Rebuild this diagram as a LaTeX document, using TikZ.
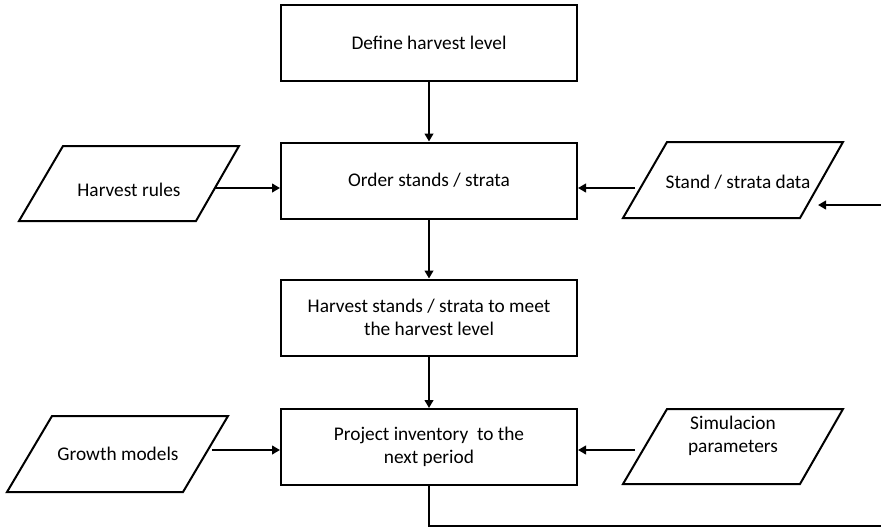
\documentclass[tikz,border=0pt]{standalone}
\usepackage{fontspec}
\setmainfont{Carlito}
\usetikzlibrary{arrows.meta}
\begin{document}
\begin{tikzpicture}[x=0.75pt,y=-0.75pt,
  every node/.style={font=\fontsize{14.5}{17}\selectfont},
  stepbox/.style={draw,line width=1.5pt,minimum width=222pt,minimum height=57pt,inner sep=0pt,align=center},
  datashape/.style={draw,line width=1.5pt,line join=miter},
  label/.style={inner sep=0pt,align=center},
  arr/.style={line width=1.5pt,-{Triangle[length=6pt,width=6.5pt]}},
  conn/.style={line width=1.5pt}]
\useasboundingbox (0,0) rectangle (881,529);
% process boxes
\node[stepbox] (b1) at (429,43) {Define harvest level};
\node[stepbox] (b2) at (429,180.5) {Order stands / strata};
\node[stepbox] (b3) at (429,317.5) {Harvest stands / strata to meet\\the harvest level};
\node[stepbox] (b4) at (429,447) {Project inventory\ \ to the\\next period};
% data parallelograms
\draw[datashape] (63,146) -- (239,146) -- (196,221) -- (19,221) -- cycle;
\node[label] (hr) at (129,190) {Harvest rules};
\draw[datashape] (667,142) -- (843,142) -- (800,218) -- (623,218) -- cycle;
\node[label] (sd) at (738,182) {Stand / strata data};
\draw[datashape] (52,416) -- (228,416) -- (183,492) -- (7,492) -- cycle;
\node[label] (gm) at (118,454) {Growth models};
\draw[datashape] (667,409) -- (843,409) -- (800,484) -- (623,484) -- cycle;
\node[label] (sp) at (733,436) {Simulacion\\parameters};
% connector end points
\coordinate (hrR) at (215,188);
\coordinate (sdL) at (635,188);
\coordinate (inR) at (881,205);
\coordinate (sdR) at (818,205);
\coordinate (gmR) at (212,450);
\coordinate (spL) at (635,450);
\coordinate (outR) at (881,526);
% connectors
\draw[arr] (b1) -- (b2);
\draw[arr] (b2) -- (b3);
\draw[arr] (b3) -- (b4);
\draw[arr] (hrR) -- (hrR -| b2.west);
\draw[arr] (sdL) -- (sdL -| b2.east);
\draw[arr] (inR) -- (sdR);
\draw[arr] (gmR) -- (gmR -| b4.west);
\draw[arr] (spL) -- (spL -| b4.east);
\draw[conn] (b4.south) |- (outR);
\end{tikzpicture}
\end{document}
